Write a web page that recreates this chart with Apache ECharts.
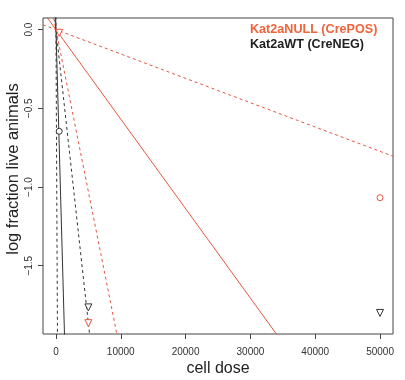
<!DOCTYPE html>
<html><head><meta charset="utf-8">
<script src="https://cdn.jsdelivr.net/npm/echarts@6/dist/echarts.min.js"></script>
<style>html,body{margin:0;padding:0;background:#fff}#c{width:405px;height:380px}</style>
</head><body><div id="c"></div>
<script>
// ---- data ----
const groups = ['Kat2aNULL (CrePOS)', 'Kat2aWT (CreNEG)'];
const groupColors = ['#e8553d', '#333333'];
const legendColors = ['#f0643c', '#222222'];
// cell doses
const doses = [500, 5000, 50000];
// log fraction of live animals per dose
const nullLogFrac = [-0.02, -1.865, -1.068];
const wtLogFrac = [-0.646, -1.765, -1.80];
// point shape: true = all responded (down triangle), false = circle
const nullCensored = [true, true, false];
const wtCensored = [false, true, true];
// estimated 1/frequency with confidence limits (lines: log frac = -dose / f)
const nullFreq = {est: 17585, lower: 4858, upper: 64640};
const wtFreq = {est: 680, lower: 120, upper: 2681};
// axes
const xTicks = [0, 10000, 20000, 30000, 40000, 50000];
const yTicks = [-1.5, -1.0, -0.5, 0.0];
const xRange = [-2000, 52000];
const yRange = [-1.934, 0.074];

const FONT = "'Liberation Sans', Arial, Helvetica, sans-serif";

function lineSeries(f, color, dashed) {
  return {
    type: 'line', silent: true, symbol: 'none', clip: true,
    data: [[xRange[0], -xRange[0] / f], [xRange[1], -xRange[1] / f]],
    lineStyle: {color: color, width: 1, type: dashed ? [3, 3] : 'solid'},
    z: 2
  };
}
function pointSeries(vals, cens, color) {
  return {
    type: 'scatter', silent: true, clip: false, z: 5,
    data: doses.map((d, i) => ({
      value: [d, vals[i]],
      symbol: cens[i] ? 'triangle' : 'circle',
      symbolSize: cens[i] ? 7 : 6,
      symbolRotate: cens[i] ? 180 : 0
    })),
    itemStyle: {color: '#fff', borderColor: color, borderWidth: 1, opacity: 1}
  };
}

const series = [
  lineSeries(nullFreq.est, groupColors[0], false),
  lineSeries(nullFreq.lower, groupColors[0], true),
  lineSeries(nullFreq.upper, groupColors[0], true),
  lineSeries(wtFreq.est, groupColors[1], false),
  lineSeries(wtFreq.lower, groupColors[1], true),
  lineSeries(wtFreq.upper, groupColors[1], true),
  pointSeries(nullLogFrac, nullCensored, groupColors[0]),
  pointSeries(wtLogFrac, wtCensored, groupColors[1])
];

const chart = echarts.init(document.getElementById('c'), null, {renderer: 'canvas'});
chart.setOption({
  animation: false,
  backgroundColor: '#fff',
  grid: {left: 43, top: 18, right: 12, bottom: 46, show: true, borderColor: '#444', borderWidth: 1, backgroundColor: 'transparent'},
  xAxis: {
    type: 'value', min: xRange[0], max: xRange[1],
    splitLine: {show: false}, axisLine: {show: false, onZero: false},
    axisTick: {show: true, inside: false, length: 5, lineStyle: {color: '#444'}, customValues: xTicks},
    axisLabel: {customValues: xTicks, color: '#333', fontSize: 10, fontFamily: FONT, margin: 13,
      formatter: v => String(v)}
  },
  yAxis: {
    type: 'value', min: yRange[0], max: yRange[1],
    splitLine: {show: false}, axisLine: {show: false, onZero: false},
    axisTick: {show: true, inside: false, length: 5, lineStyle: {color: '#444'}, customValues: yTicks},
    axisLabel: {customValues: yTicks, color: '#333', fontSize: 10, fontFamily: FONT, rotate: 90, margin: 9,
      formatter: v => (v < 0 ? '\u2212' : '') + Math.abs(v).toFixed(1)}
  },
  graphic: [
    {type: 'text', x: 218, y: 369, style: {text: 'cell dose', font: '16px ' + FONT, fill: '#222', textAlign: 'center', textVerticalAlign: 'middle'}},
    {type: 'text', x: 13, y: 169, rotation: Math.PI / 2, style: {text: 'log fraction live animals', font: '16.5px ' + FONT, fill: '#222', textAlign: 'center', textVerticalAlign: 'middle'}},
    {type: 'text', x: 250, y: 30, style: {text: groups[0], font: 'bold 12.6px ' + FONT, fill: legendColors[0], textAlign: 'left', textVerticalAlign: 'middle'}},
    {type: 'text', x: 250, y: 45, style: {text: groups[1], font: 'bold 12.6px ' + FONT, fill: legendColors[1], textAlign: 'left', textVerticalAlign: 'middle'}}
  ],
  series: series
});
</script></body></html>
